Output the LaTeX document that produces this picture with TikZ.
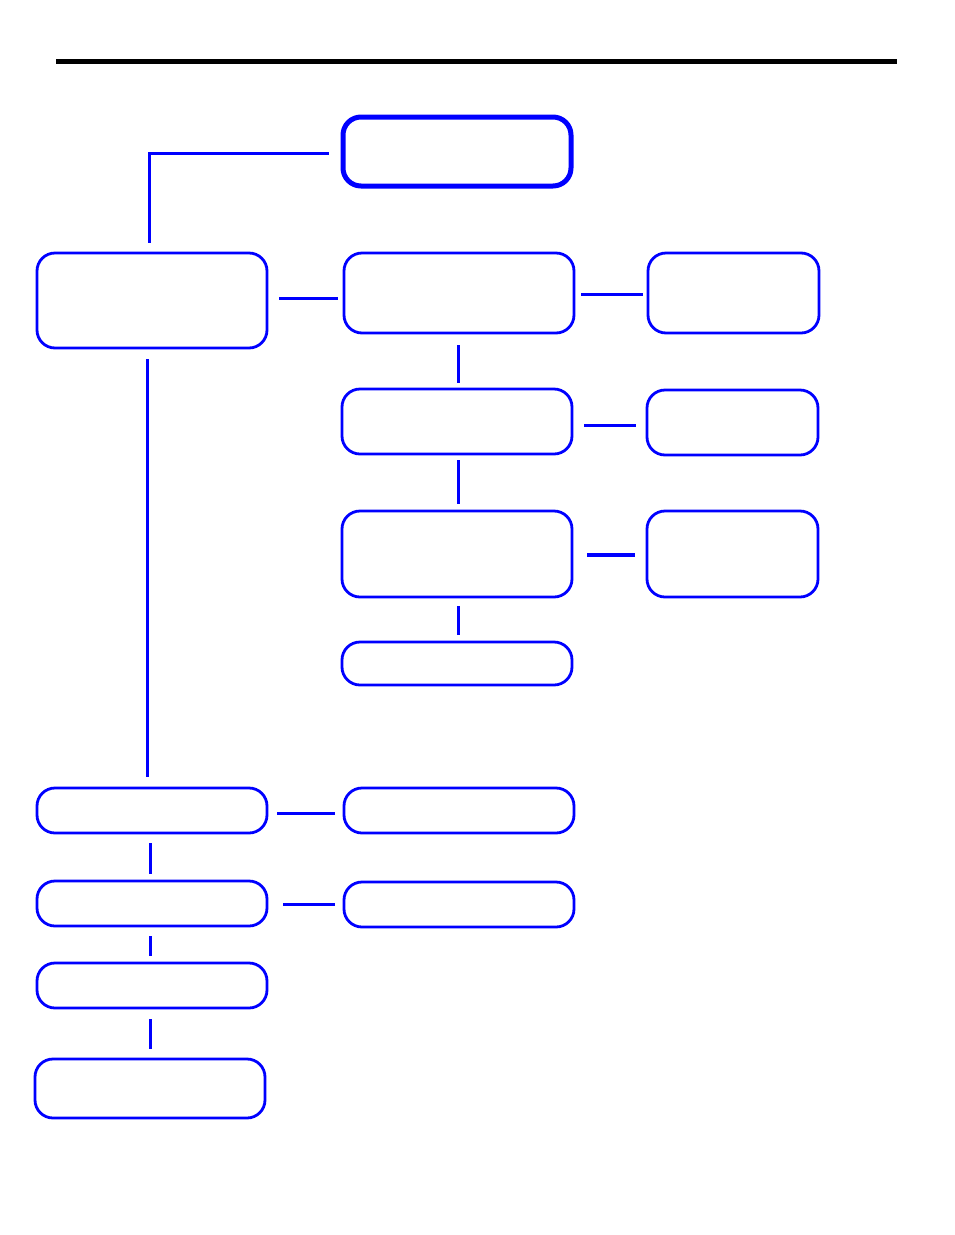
\documentclass[tikz,border=0pt]{standalone}
\usetikzlibrary{positioning}

\begin{document}
\begin{tikzpicture}[x=1pt,y=-1pt,
    stepbox/.style={draw=blue, line width=2.8pt, rounded corners=18pt, inner sep=0pt, minimum width=230pt},
    sidebox/.style={stepbox, minimum width=171pt},
    link/.style={draw=blue, line width=3pt, shorten <=7pt, shorten >=6pt}]
    \useasboundingbox (0,0) rectangle (954,1235);
    \draw[black, line width=5pt] (56,61) -- (897,61);

    \node[stepbox, line width=5pt, minimum width=228pt, minimum height=69pt] (top) at (457,151.5) {};
    \node[stepbox, minimum height=95pt] (lA) at (152,300.5) {};
    \node[stepbox, minimum height=80pt] (cA) at (459,293) {};
    \node[sidebox, minimum height=80pt] (rA) at (733.5,293) {};
    \node[stepbox, minimum height=65pt] (cB) at (457,421.5) {};
    \node[sidebox, minimum height=65pt] (rB) at (732.5,422.5) {};
    \node[stepbox, minimum height=86pt] (cC) at (457,554) {};
    \node[sidebox, minimum height=86pt] (rC) at (732.5,554) {};
    \node[stepbox, minimum height=43pt] (cD) at (457,663.5) {};
    \node[stepbox, minimum height=45pt] (lB) at (152,810.5) {};
    \node[stepbox, minimum height=45pt] (mB) at (459,810.5) {};
    \node[stepbox, minimum height=45pt] (lC) at (152,903.5) {};
    \node[stepbox, minimum height=45pt] (mC) at (459,904.5) {};
    \node[stepbox, minimum height=45pt] (lD) at (152,985.5) {};
    \node[stepbox, minimum height=59pt] (lE) at (150,1088.5) {};

    \draw[link, shorten <=12pt, shorten >=9pt] ([yshift=-1.5pt]top.west) -| ([xshift=-3pt]lA.north);
    \draw[link, shorten <=11pt, shorten >=5pt] ([yshift=2.5pt]lA.east) -- ([yshift=2.5pt]lA.east -| cA.west);
    \draw[link, shorten <=6pt, shorten >=4pt] ([yshift=-1pt]cA.east) -- ([yshift=-1pt]rA.west);
    \draw[link, shorten <=11pt, shorten >=5pt] ([xshift=-1pt]cA.south) -- ([xshift=1pt]cB.north);
    \draw[link, shorten <=11pt, shorten >=10pt] ([yshift=-3.5pt]cB.east) -- ([yshift=-3.5pt]cB.east -| rB.west);
    \draw[link, shorten <=5pt] ([xshift=1pt]cB.south) -- ([xshift=1pt]cC.north);
    \draw[link, line width=4pt, shorten <=14pt, shorten >=11pt] ([yshift=-1pt]cC.east) -- ([yshift=-1pt]rC.west);
    \draw[link, shorten <=8pt] ([xshift=1pt]cC.south) -- ([xshift=1pt]cD.north);
    \draw[link, shorten <=10pt, shorten >=10pt] ([xshift=-5pt]lA.south) -- ([xshift=-5pt]lB.north);
    \draw[link, shorten <=9pt, shorten >=8pt] ([yshift=-2.5pt]lB.east) -- ([yshift=-2.5pt]mB.west);
    \draw[link, shorten <=9pt, shorten >=6pt] ([xshift=-2pt]lB.south) -- ([xshift=-2pt]lC.north);
    \draw[link, shorten <=15pt, shorten >=8pt] ([yshift=-0.5pt]lC.east) -- ([yshift=-0.5pt]lC.east -| mC.west);
    \draw[link, shorten <=9pt, shorten >=6pt] ([xshift=-2pt]lC.south) -- ([xshift=-2pt]lD.north);
    \draw[link, shorten <=10pt, shorten >=9pt] ([xshift=-2pt]lD.south) -- (lE.north);
\end{tikzpicture}
\end{document}
